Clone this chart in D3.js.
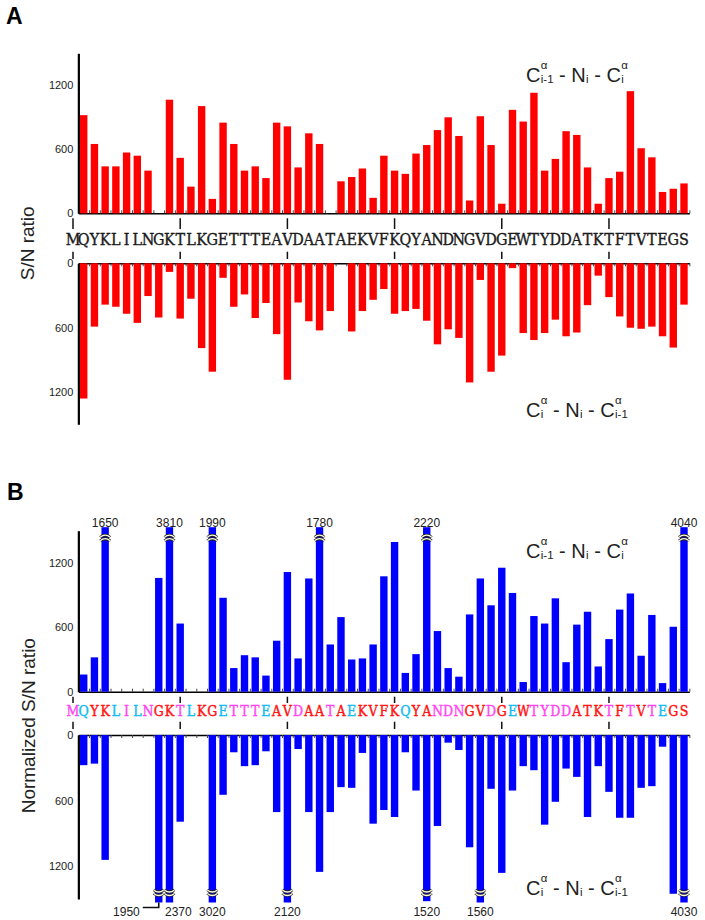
<!DOCTYPE html>
<html><head><meta charset="utf-8">
<script src="https://cdn.jsdelivr.net/npm/d3@7"></script>
<style>body{margin:0;background:#fff}text{white-space:pre}</style>
</head><body>
<svg id="chart" width="705" height="920"></svg>
<script>
// ---------------- data ----------------
const sequence = "MQYKLILNGKTLKGETTTEAVDAATAEKVFKQYANDNGVDGEWTYDDATKTFTVTEGS".split("");
// residue class colouring used in panel B (m = magenta, c = cyan, r = red)
const seqClassB = "mcrrcmcmrrmcrrcmmmcrrmrrmrcrrrrcrrmmmrrmrcrmmmmrrrmrmrmcrr".split("");
const residues = d3.range(2, 59); // bars exist for residues 2..58
const yTicks = [0, 600, 1200];
const majorTicks = [1, 11, 21, 31, 41, 51];

// Panel A: S/N ratio
const aTop = [920, 650, 440, 440, 570, 540, 400, null, 1065, 520, 250, 1005, 135, 850, 650, 400, 440, 330, 850, 815,
  430, 750, 650, null, 300, 340, 420, 145, 540, 400, 370, 560, 640, 780, 900, 725, 120, 910, 640, 90,
  970, 860, 1130, 400, 510, 770, 735, 430, 90, 330, 390, 1145, 610, 525, 200, 230, 280];
const aBottom = [1260, 590, 385, 405, 470, 555, 305, 505, 80, 515, 330, 790, 1010, 135, 405, 290, 510, 370, 660, 1085,
  365, 540, 625, 445, null, 635, 445, 340, 240, 470, 445, 425, 535, 755, 615, 695, 1110, 155, 1010, 860,
  45, 650, 715, 650, 525, 680, 645, 390, 115, 315, 495, 600, 610, 590, 680, 785, 385];
// Panel B: normalized S/N ratio (values above 1500 are drawn broken and labelled)
const bTop = [160, 320, 1650, null, null, null, null, 1060, 3810, 635, null, null, 1990, 875, 220, 340, 320, 150, 475, 1115,
  310, 1055, 1780, 440, 695, 300, 310, 440, 1075, 1395, 175, 350, 2220, 565, 220, 140, 720, 1055, 805, 1155,
  920, 90, 705, 635, 870, 275, 625, 745, 235, 490, 765, 915, 335, 715, 80, 605, 4040];
const bBottom = [276, 262, 1142, null, null, null, null, 1950, 2370, 793, null, null, 3020, 547, 158, 285, 276, 149, 705, 2120,
  128, 705, 1252, 705, 477, 483, 164, 811, 686, 750, 158, 508, 1520, 832, 70, 137, 1027, 1560, 492, 1261,
  508, 285, 322, 820, 611, 307, 383, 750, 285, 520, 757, 757, 483, 468, 107, 1452, 4030];

// ---------------- drawing ----------------
const sans = "'Liberation Sans', Arial, sans-serif";
const seqFont = "'DejaVu Serif Condensed', 'DejaVu Serif', serif";
const classColor = {m: "#ff44f0", c: "#1ab8f0", r: "#ff1414"};
const svg = d3.select("#chart");
const defs = svg.append("defs");
const xs = d3.scaleLinear().domain([1, 58]).range([73, 684]);
const xAxisScale = d3.scaleLinear().domain([1.5, 58.5]).range([xs(1.5), xs(58.5)]);
const barW = 7.4;
const axisX = xs(1.5);

function drawHalf(g, data, zeroY, h, dir, color, broken) {
  // dir = 1 upward bars, -1 downward bars
  const y = d3.scaleLinear().domain([0, 1500]).range([zeroY, zeroY - dir * h]);
  const clampV = 1500 + 3.5 / (h / 1500);
  const rows = residues.map((r, i) => ({r, v: data[i]})).filter(d => d.v != null);

  const xa = (dir === 1 ? d3.axisBottom(xAxisScale) : d3.axisTop(xAxisScale))
    .tickValues(d3.range(1.5, 58.6, 1)).tickSize(-3).tickSizeOuter(0).tickFormat("");
  const gx = g.append("g").attr("transform", `translate(0,${zeroY})`).call(xa);
  gx.select(".domain").attr("stroke", "#000").attr("stroke-width", 1.6);
  gx.selectAll(".tick line").attr("stroke", "#444").attr("stroke-width", 1);

  g.append("g").selectAll("rect").data(rows).join("rect")
    .attr("x", d => xs(d.r) - barW / 2).attr("width", barW)
    .attr("y", d => Math.min(y(0), y(Math.min(d.v, clampV))))
    .attr("height", d => Math.abs(y(Math.min(d.v, clampV)) - y(0)))
    .attr("fill", color);

  const ya = d3.axisLeft(y).tickValues(yTicks).tickFormat(d3.format("d"))
    .tickSize(0).tickPadding(5).tickSizeOuter(0);
  const gy = g.append("g").attr("transform", `translate(${axisX},0)`).call(ya);
  gy.select(".domain").attr("stroke", "#000").attr("stroke-width", 2.2);
  gy.selectAll(".tick text").attr("font-family", sans).attr("font-size", 11).attr("fill", "#222");

  if (!broken) return;
  rows.filter(d => d.v > 1500).forEach(d => {
    const x = xs(d.r);
    const end = y(clampV);
    const ys = dir === 1 ? [end + 8.5, end + 12] : [end - 11, end - 7.5];
    ys.forEach(yy => {
      const p = dir === 1
        ? `M${x - 5},${yy + 1.6} Q${x},${yy - 2.6} ${x + 5},${yy + 1.6}`
        : `M${x - 5},${yy - 1.6} Q${x},${yy + 2.6} ${x + 5},${yy - 1.6}`;
      g.append("path").attr("d", p).attr("fill", "none").attr("stroke", "#222").attr("stroke-width", 2.8);
      g.append("path").attr("d", p).attr("fill", "none").attr("stroke", "#fffbe0").attr("stroke-width", 1.3);
    });
    const t = g.append("text").attr("font-family", sans).attr("font-size", 12).attr("fill", "#222")
      .text(d.v);
    if (dir === 1) {
      t.attr("x", x).attr("y", end - 0.5).attr("text-anchor", "middle");
    } else {
      const ty = end + 13.5;
      if (d.r === 9) {
        t.attr("x", x - 19).attr("y", ty).attr("text-anchor", "end");
        g.append("path").attr("d", `M${x - 16},${ty - 8.5} H${x} V${ty - 13.5}`)
          .attr("fill", "none").attr("stroke", "#111").attr("stroke-width", 1.6);
      } else if (d.r === 10) {
        t.attr("x", x - 4.5).attr("y", ty).attr("text-anchor", "start");
      } else {
        t.attr("x", x).attr("y", ty).attr("text-anchor", "middle");
      }
    }
  });
}

function seqRow(g, baseline, size, paint, tickTop, tickBot) {
  g.append("g").selectAll("line").data(majorTicks.flatMap(r => [[r, tickTop], [r, tickBot]])).join("line")
    .attr("x1", d => xs(d[0])).attr("x2", d => xs(d[0]))
    .attr("y1", d => d[1][0]).attr("y2", d => d[1][1])
    .attr("stroke", "#111").attr("stroke-width", 1.5);
  // one text element; each character is placed at its residue position
  g.append("text").attr("y", baseline).attr("text-anchor", "middle")
    .attr("x", sequence.map((d, i) => xs(i + 1)).join(" "))
    .attr("font-family", seqFont).attr("font-size", size)
    .attr("fill", paint).attr("stroke", paint).attr("stroke-width", 0.35)
    .text(sequence.join(""));
}

function residueGradient(id) {
  const x0 = xs(0.5), x1 = xs(58.5);
  const grad = defs.append("linearGradient").attr("id", id).attr("gradientUnits", "userSpaceOnUse")
    .attr("x1", x0).attr("x2", x1).attr("y1", 0).attr("y2", 0);
  const stops = sequence.flatMap((d, i) => {
    const c = classColor[seqClassB[i]];
    return [{o: (xs(i + 0.5) - x0) / (x1 - x0), c}, {o: (xs(i + 1.5) - x0) / (x1 - x0), c}];
  });
  grad.selectAll("stop").data(stops).join("stop").attr("offset", d => d.o).attr("stop-color", d => d.c);
  return `url(#${id})`;
}

function measure(s, size) {
  const e = svg.append("text").attr("font-family", sans).attr("font-size", size).text(s);
  const w = e.node().getComputedTextLength();
  e.remove();
  return w;
}

function cnLabel(g, x, y, sub1, sub2) {
  const parts = [];
  let cx = x;
  const big = s => { parts.push({s, x: cx, y, size: 20}); cx += measure(s, 20); };
  const stack = sub => {
    parts.push({s: "\u03b1", x: cx + 0.3, y: y - 13, size: 11.5});
    parts.push({s: sub, x: cx + 0.3, y: y + 0.5, size: 11.5});
    cx += Math.max(measure("\u03b1", 11.5), measure(sub, 11.5)) + 0.3;
  };
  big("C"); stack(sub1); big(" - N");
  parts.push({s: "i", x: cx + 0.3, y: y + 0.5, size: 11.5}); cx += measure("i", 11.5) + 0.3;
  big(" - C"); stack(sub2);
  const t = g.append("text").attr("font-family", sans).attr("fill", "#222");
  t.selectAll("tspan").data(parts).join("tspan")
    .attr("x", d => d.x).attr("y", d => d.y).attr("font-size", d => d.size).text(d => d.s);
}

// ----- Panel A -----
const gA = svg.append("g");
gA.append("text").attr("x", 6).attr("y", 24).attr("font-family", sans).attr("font-weight", "bold")
  .attr("font-size", 23).text("A");
drawHalf(gA, aTop, 213.3, 160, 1, "#ff0000", false);
drawHalf(gA, aBottom, 263.3, 161, -1, "#ff0000", false);
seqRow(gA, 245, 16, "#1a1a1a", [218.3, 229], [251.7, 259]);
cnLabel(gA, 526, 82, "i-1", "i");
cnLabel(gA, 526, 417, "i", "i-1");
gA.append("text").attr("transform", "translate(34,243.3) rotate(-90)").attr("text-anchor", "middle")
  .attr("font-family", sans).attr("font-size", 19).attr("fill", "#222").text("S/N ratio");

// ----- Panel B -----
const gB = svg.append("g");
gB.append("text").attr("x", 7).attr("y", 500).attr("font-family", sans).attr("font-weight", "bold")
  .attr("font-size", 23).text("B");
drawHalf(gB, bTop, 691.7, 161, 1, "#0000ff", true);
drawHalf(gB, bBottom, 735, 164, -1, "#0000ff", true);
seqRow(gB, 715.5, 14, residueGradient("seqB"), [696.7, 703], [721.7, 729]);
cnLabel(gB, 526, 558, "i-1", "i");
cnLabel(gB, 526, 895, "i", "i-1");
gB.append("text").attr("transform", "translate(35,725.7) rotate(-90)").attr("text-anchor", "middle")
  .attr("font-family", sans).attr("font-size", 19).attr("fill", "#222").text("Normalized S/N ratio");
</script>
</body></html>
